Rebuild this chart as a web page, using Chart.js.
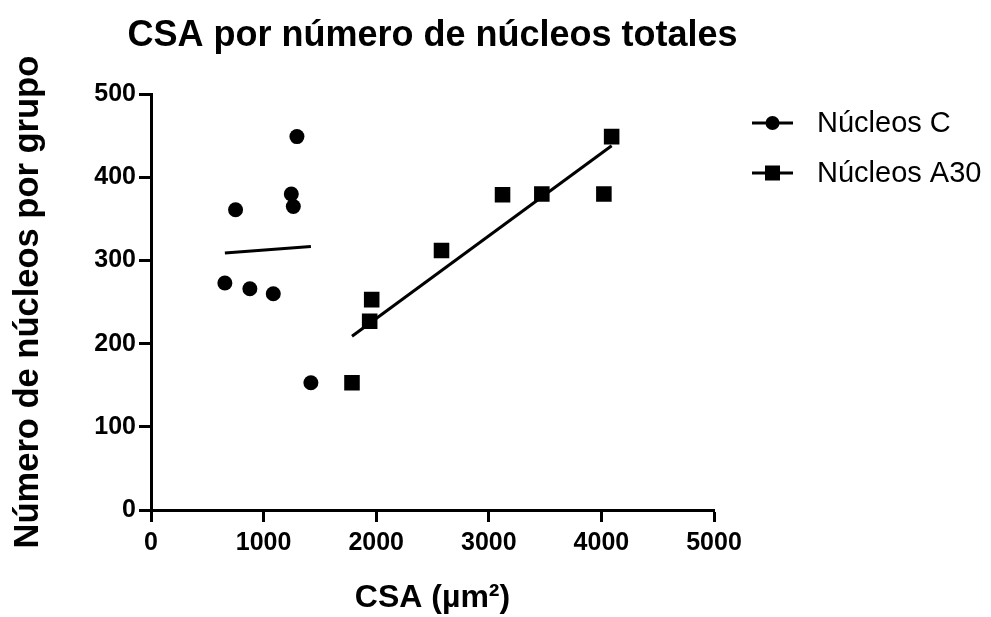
<!DOCTYPE html>
<html>
<head>
<meta charset="utf-8">
<script src="https://cdn.jsdelivr.net/npm/chart.js@4.4.1/dist/chart.umd.min.js"></script>
<style>
  html, body { margin: 0; padding: 0; background: #fff; }
</style>
</head>
<body>
<canvas id="chart" width="991" height="617"></canvas>
<script>
// Núcleos C (circles)
const cX = [1296, 1246, 1264, 751, 656, 878, 1086, 1420];
const cY = [449, 380, 365, 361, 273, 266, 260, 153];
// Núcleos A30 (squares)
const aX = [4091, 3122, 3471, 4022, 2580, 1960, 1942, 1785];
const aY = [449, 379, 380, 380, 312, 253, 227, 153];
// regression lines, end points
const fitCX = [656, 1420];
const fitCY = [309, 317];
const fitAX = [1785, 4091];
const fitAY = [209, 438];

const xTicks = [0, 1000, 2000, 3000, 4000, 5000];
const yTicks = [0, 100, 200, 300, 400, 500];

Chart.defaults.font.family = "'Liberation Sans', Arial, sans-serif";
Chart.defaults.color = '#000';

const pts = (xs, ys) => xs.map((x, i) => ({ x, y: ys[i] }));

// title is centred over the plot but wider than it, so give its box some room
const wideTitle = {
    id: 'wideTitle',
    afterLayout(chart) {
        const t = chart.titleBlock;
        if (!t) return;
        t.left = chart.chartArea.left - 45;
        t.right = chart.chartArea.right + 45;
        t.width = t.right - t.left;
    }
};

// legend drawn by hand: line with the marker in the middle, like the original
const lineLegend = {
    id: 'lineLegend',
    afterDraw(chart) {
        const ctx = chart.ctx;
        const x0 = chart.chartArea.right + 38;
        const rows = chart.data.datasets.filter(d => d.inLegend);
        ctx.save();
        rows.forEach((d, i) => {
            const y = 123 + i * 50;
            ctx.strokeStyle = '#000';
            ctx.lineWidth = 3;
            ctx.beginPath();
            ctx.moveTo(x0, y);
            ctx.lineTo(x0 + 41, y);
            ctx.stroke();
            ctx.fillStyle = '#000';
            if (d.pointStyle === 'rect') {
                ctx.fillRect(x0 + 13, y - 7.5, 15, 15);
            } else {
                ctx.beginPath();
                ctx.arc(x0 + 20.5, y, 7, 0, Math.PI * 2);
                ctx.fill();
            }
            ctx.font = "29px 'Liberation Sans', Arial, sans-serif";
            ctx.textBaseline = 'middle';
            ctx.fillText(d.label, x0 + 65, y + 1);
        });
        ctx.restore();
    }
};

new Chart(document.getElementById('chart'), {
    type: 'scatter',
    data: {
        datasets: [
            { label: 'Núcleos C', inLegend: true, data: pts(cX, cY), pointStyle: 'circle', pointRadius: 7.5, pointHoverRadius: 7.5, backgroundColor: '#000', borderWidth: 0 },
            { label: 'Núcleos A30', inLegend: true, data: pts(aX, aY), pointStyle: 'rect', pointRadius: 11, pointHoverRadius: 11, backgroundColor: '#000', borderWidth: 0 },
            { label: 'fit C', type: 'line', data: pts(fitCX, fitCY), showLine: true, borderColor: '#000', borderWidth: 3, pointRadius: 0 },
            { label: 'fit A30', type: 'line', data: pts(fitAX, fitAY), showLine: true, borderColor: '#000', borderWidth: 3, pointRadius: 0 }
        ]
    },
    options: {
        responsive: false,
        animation: false,
        layout: { padding: { left: 0, right: 277, top: 0, bottom: 0 } },
        plugins: {
            legend: { display: false },
            tooltip: { enabled: false },
            title: {
                display: true, fullSize: false,
                text: 'CSA por número de núcleos totales',
                font: { size: 36, weight: 'bold' },
                padding: { top: 14, bottom: 37 }
            }
        },
        scales: {
            x: {
                type: 'linear', min: 0, max: 5000,
                afterBuildTicks: s => { s.ticks = xTicks.map(v => ({ value: v })); },
                afterFit: s => { s.height = 107; },
                ticks: { font: { size: 25, weight: 'bold' }, padding: 6, maxRotation: 0, callback: v => String(v) },
                grid: { drawOnChartArea: false, tickLength: 12, tickWidth: 3, tickColor: '#000' },
                border: { color: '#000', width: 3 },
                title: { display: true, text: 'CSA (µm²)', font: { size: 32, weight: 'bold' }, padding: { top: 0, bottom: 0 } }
            },
            y: {
                min: 0, max: 500,
                afterBuildTicks: s => { s.ticks = yTicks.map(v => ({ value: v })); },
                afterFit: s => { s.width = 151; },
                ticks: { font: { size: 25, weight: 'bold' }, padding: 3, callback: v => String(v) },
                grid: { drawOnChartArea: false, tickLength: 12, tickWidth: 3, tickColor: '#000' },
                border: { color: '#000', width: 3 },
                title: { display: true, text: 'Número de núcleos por grupo', font: { size: 34.5, weight: 'bold' }, padding: { top: 8, bottom: 0 } }
            }
        }
    },
    plugins: [wideTitle, lineLegend]
});
</script>
</body>
</html>
